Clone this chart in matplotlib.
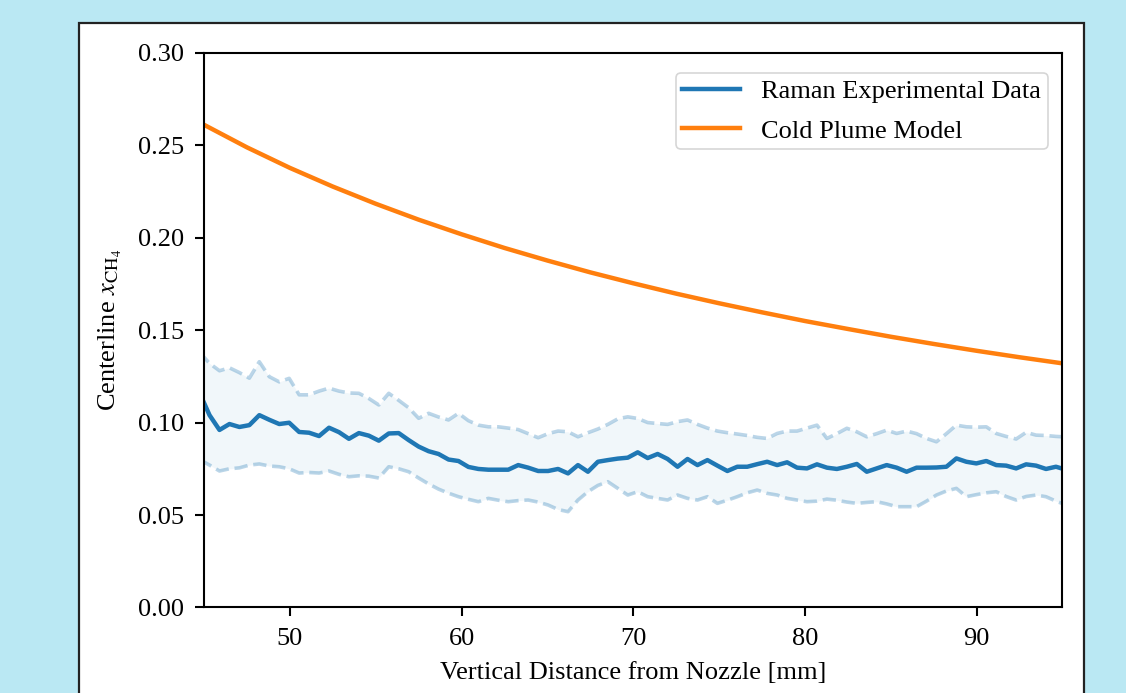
import matplotlib.pyplot as plt
import matplotlib.patches as mpatches
import numpy as np

plt.rcParams['font.family'] = ['Liberation Serif', 'DejaVu Serif']
plt.rcParams['mathtext.fontset'] = 'stix'

# Raman data: sampled every 0.58 mm (left end clipped by the axis)
distance = np.arange(88) * 0.58 + 44.74
raman_mean = [
    0.116, 0.104, 0.096, 0.0992, 0.0976, 0.0986, 0.104, 0.1015, 0.0992, 0.0999,
    0.0949, 0.0945, 0.0927, 0.0972, 0.0948, 0.0912, 0.0943, 0.0929, 0.0902, 0.0941,
    0.0943, 0.0905, 0.087, 0.0845, 0.083, 0.080, 0.0792, 0.076, 0.0749, 0.0745,
    0.0745, 0.0745, 0.077, 0.0756, 0.0738, 0.0738, 0.0749, 0.0725, 0.077, 0.0734,
    0.0788, 0.0797, 0.0805, 0.081, 0.0839, 0.0808, 0.083, 0.0803, 0.0761, 0.0803,
    0.077, 0.0797, 0.0767, 0.0738, 0.0761, 0.0761, 0.0775, 0.0788, 0.077, 0.0785,
    0.0756, 0.0752, 0.0774, 0.0756, 0.0749, 0.0761, 0.0776, 0.0734, 0.0752, 0.077,
    0.0756, 0.0734, 0.0756, 0.0756, 0.0757, 0.0761, 0.0806, 0.0788, 0.0779, 0.0792,
    0.077, 0.0767, 0.0752, 0.0774, 0.0767, 0.0749, 0.0761, 0.0745]
raman_upper = [
    0.138, 0.132, 0.128, 0.1296, 0.127, 0.124, 0.1329, 0.1248, 0.122, 0.1239,
    0.115, 0.115, 0.117, 0.1186, 0.117, 0.116, 0.1158, 0.113, 0.1095, 0.1158,
    0.112, 0.108, 0.1023, 0.105, 0.103, 0.1014, 0.105, 0.101, 0.0986, 0.0977,
    0.0977, 0.097, 0.0962, 0.094, 0.0918, 0.094, 0.0954, 0.095, 0.0923, 0.0945,
    0.0965, 0.099, 0.102, 0.1031, 0.1022, 0.100, 0.0995, 0.099, 0.1005, 0.1014,
    0.099, 0.097, 0.0954, 0.0945, 0.0938, 0.093, 0.092, 0.0914, 0.0941, 0.0954,
    0.0954, 0.097, 0.0986, 0.0914, 0.094, 0.0969, 0.095, 0.0923, 0.094, 0.0959,
    0.0941, 0.0954, 0.094, 0.0914, 0.0896, 0.094, 0.0986, 0.0977, 0.0975, 0.0977,
    0.0941, 0.0925, 0.0911, 0.0947, 0.0932, 0.093, 0.0925, 0.0922]
raman_lower = [
    0.080, 0.077, 0.0738, 0.075, 0.0755, 0.077, 0.0776, 0.0765, 0.0761, 0.075,
    0.0727, 0.073, 0.0727, 0.0738, 0.072, 0.0707, 0.0712, 0.071, 0.070, 0.0761,
    0.075, 0.0734, 0.070, 0.0668, 0.064, 0.0618, 0.0599, 0.0585, 0.0572, 0.059,
    0.058, 0.0572, 0.0578, 0.0581, 0.057, 0.0554, 0.053, 0.0518, 0.0581, 0.0626,
    0.066, 0.068, 0.0644, 0.0608, 0.0626, 0.0599, 0.059, 0.0581, 0.0608, 0.059,
    0.0581, 0.0599, 0.0563, 0.058, 0.0599, 0.062, 0.0635, 0.0617, 0.0608, 0.059,
    0.0581, 0.0572, 0.0575, 0.0586, 0.058, 0.057, 0.0563, 0.0568, 0.0572, 0.056,
    0.0545, 0.0545, 0.0545, 0.0575, 0.0608, 0.063, 0.0644, 0.0599, 0.061, 0.062,
    0.0626, 0.060, 0.0581, 0.060, 0.0608, 0.0599, 0.0575, 0.0555]

# cold plume model, read every 2.5 mm
model_dist = np.arange(45, 95.1, 2.5)
model_x = [0.261, 0.2488, 0.2377, 0.2276, 0.2183, 0.2097, 0.2018, 0.1944, 0.1876,
           0.1812, 0.1753, 0.1697, 0.1645, 0.1596, 0.1549, 0.1506, 0.1464, 0.1425,
           0.1388, 0.1353, 0.1320]

fs = 19

fig = plt.figure(figsize=(11.26, 6.93), dpi=100)
fig.patch.set_facecolor('#bae8f3')
fig.patches.append(mpatches.Rectangle((0.0702, -0.1), 0.8925, 1.0668,
                                      transform=fig.transFigure, facecolor='white',
                                      edgecolor='#222222', linewidth=1.6, zorder=-5))

ax = fig.add_axes([0.1812, 0.1234, 0.7624, 0.8006])
ax.set_zorder(2)
ax.fill_between(distance, raman_lower, raman_upper, color='#1f77b4', alpha=0.06, lw=0)
ax.plot(distance, raman_upper, '--', color='#1f77b4', alpha=0.3, lw=2.6)
ax.plot(distance, raman_lower, '--', color='#1f77b4', alpha=0.3, lw=2.6)
ax.plot(distance, raman_mean, color='#1f77b4', lw=3.2, label='Raman Experimental Data')
ax.plot(model_dist, model_x, color='#ff7f0e', lw=3.2, label='Cold Plume Model')

ax.set_xlim(45, 95)
ax.set_ylim(0, 0.30)
ax.set_xticks([50, 60, 70, 80, 90])
ax.set_yticks([0, 0.05, 0.10, 0.15, 0.20, 0.25, 0.30])
ax.set_yticklabels(['0.00', '0.05', '0.10', '0.15', '0.20', '0.25', '0.30'])
ax.tick_params(labelsize=fs, length=6.5, width=1.5, pad=8)
for s in ax.spines.values():
    s.set_linewidth(1.5)
ax.set_xlabel('Vertical Distance from Nozzle [mm]', fontsize=fs, labelpad=9)
ax.set_ylabel(r'Centerline $x_{\mathrm{CH_4}}$', fontsize=fs, labelpad=10)
leg = ax.legend(loc='upper right', bbox_to_anchor=(0.983, 0.963), borderaxespad=0,
                fontsize=fs, handlelength=2.2, borderpad=0.25, labelspacing=0.6,
                framealpha=0.8)
leg.get_frame().set_linewidth(1.2)

plt.savefig('out.png', dpi=100, facecolor=fig.get_facecolor())
